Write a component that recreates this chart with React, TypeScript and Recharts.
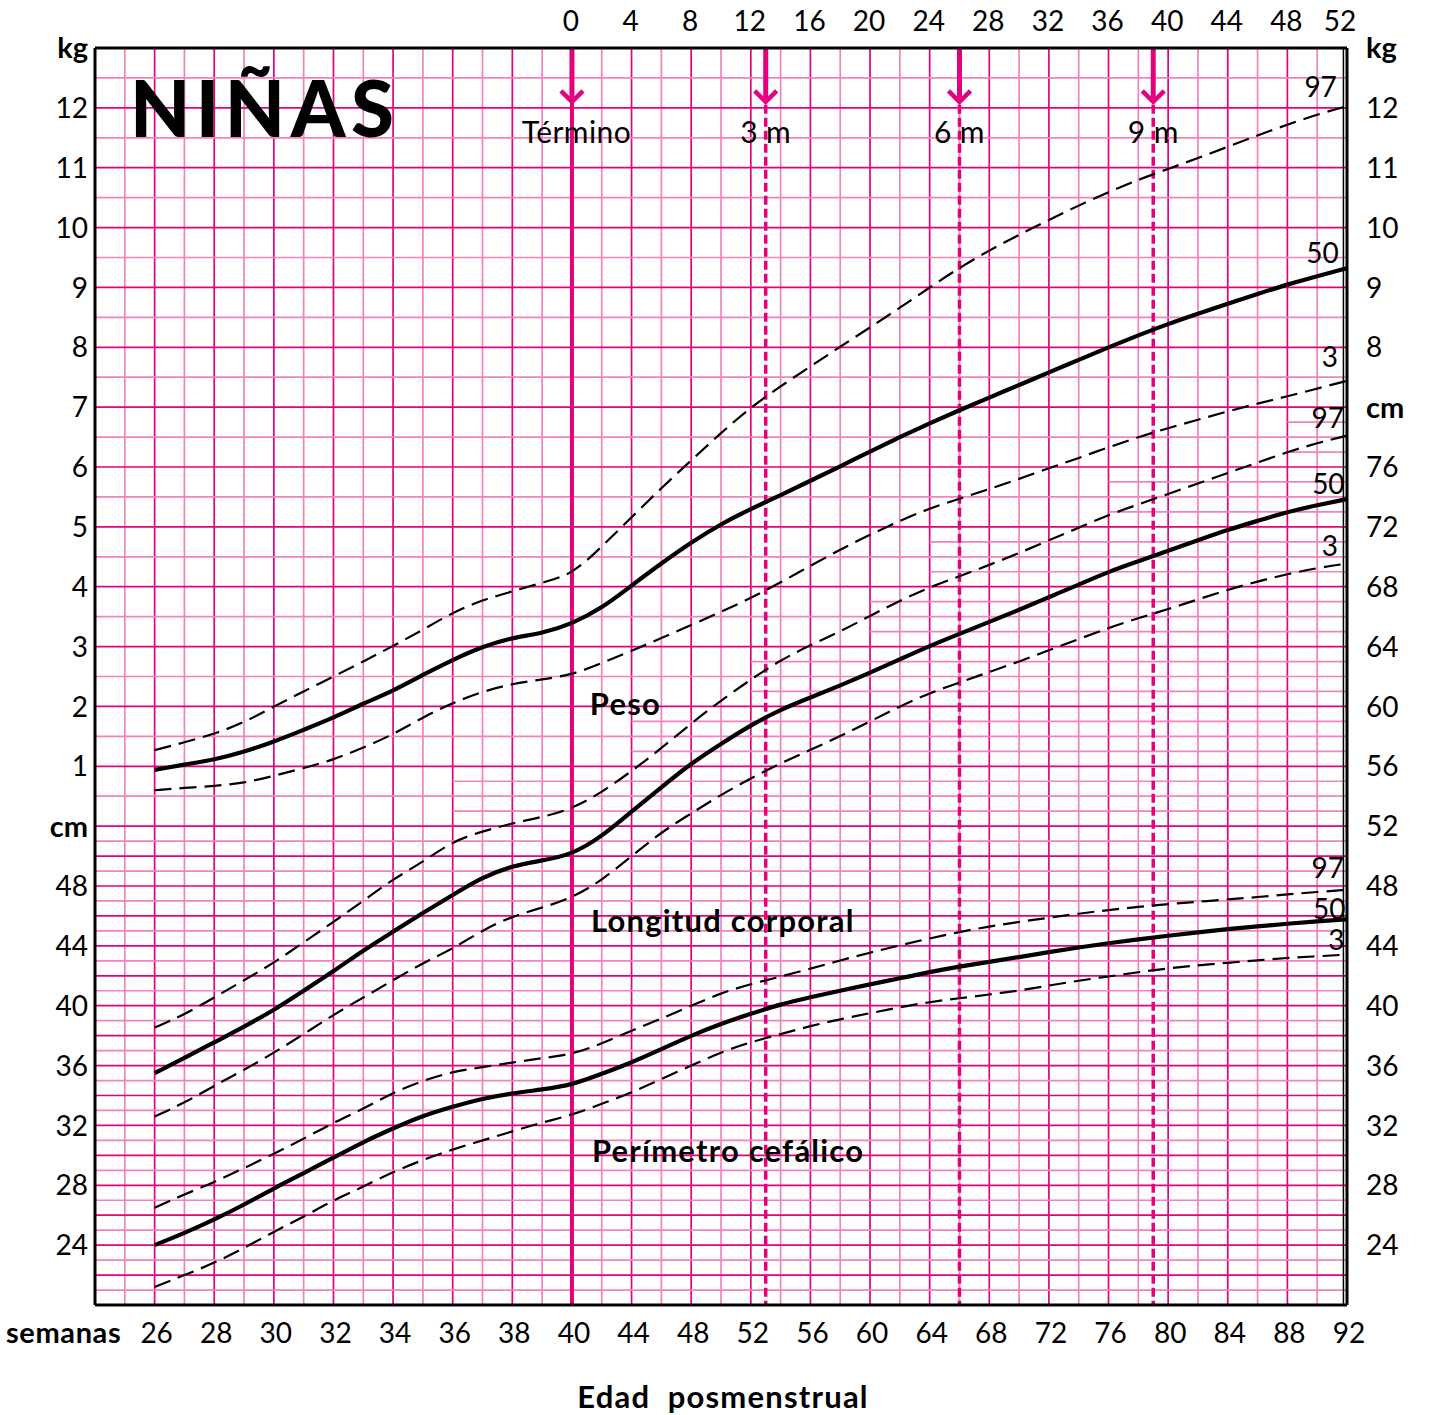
import { LineChart, Line, XAxis, YAxis, ReferenceLine, ReferenceDot } from 'recharts';

const FONT = 'Lato, "Open Sans", "DejaVu Sans", sans-serif';
const PINK = '#E5007E';
const PINK_LIGHT = '#F283BC';

// semanas de edad posmenstrual de cada punto
const WEEKS = [26, 27, 28, 29, 30, 31, 32, 33, 34, 35, 36, 37, 38, 39, 40, 42, 44, 46, 48, 50, 52, 54, 56, 58, 60, 62, 64, 66, 68, 70, 72, 74, 76, 78, 80, 82, 84, 86, 88, 90, 92];

// Peso (kg)
const PESO_P3 = [0.6, 0.64, 0.67, 0.72, 0.84, 0.97, 1.11, 1.31, 1.53, 1.82, 2.06, 2.25, 2.38, 2.45, 2.53, 2.72, 2.93, 3.14, 3.36, 3.58, 3.81, 4.07, 4.35, 4.62, 4.87, 5.1, 5.31, 5.47, 5.63, 5.8, 5.98, 6.15, 6.33, 6.5, 6.65, 6.79, 6.93, 7.06, 7.18, 7.31, 7.44];
const PESO_P50 = [0.94, 1.03, 1.11, 1.24, 1.41, 1.61, 1.81, 2.05, 2.26, 2.53, 2.78, 3.0, 3.15, 3.22, 3.38, 3.64, 4.02, 4.39, 4.74, 5.05, 5.3, 5.53, 5.77, 6.01, 6.26, 6.5, 6.73, 6.95, 7.16, 7.37, 7.58, 7.79, 8.0, 8.2, 8.39, 8.56, 8.73, 8.89, 9.05, 9.19, 9.32];
const PESO_P97 = [1.27, 1.4, 1.54, 1.73, 2.0, 2.25, 2.5, 2.75, 3.01, 3.28, 3.57, 3.78, 3.92, 4.07, 4.2, 4.67, 5.16, 5.65, 6.11, 6.57, 7.0, 7.35, 7.68, 8.01, 8.33, 8.66, 9.0, 9.33, 9.62, 9.88, 10.13, 10.37, 10.59, 10.8, 10.98, 11.16, 11.35, 11.54, 11.72, 11.89, 12.03];

// Longitud corporal (cm)
const LONG_P3 = [32.6, 33.5, 34.66, 35.7, 36.85, 38.1, 39.4, 40.55, 41.7, 42.86, 43.8, 45.05, 45.98, 46.55, 47.2, 48.37, 50.0, 51.6, 52.85, 54.1, 55.2, 56.2, 57.1, 58.0, 59.0, 60.0, 60.9, 61.6, 62.3, 63.0, 63.75, 64.5, 65.25, 65.9, 66.5, 67.15, 67.8, 68.35, 68.85, 69.25, 69.55];
const LONG_P50 = [35.5, 36.5, 37.55, 38.6, 39.7, 41.0, 42.3, 43.7, 44.95, 46.2, 47.4, 48.6, 49.35, 49.7, 50.1, 51.3, 52.98, 54.6, 56.2, 57.5, 58.75, 59.8, 60.6, 61.4, 62.25, 63.15, 64.05, 64.85, 65.65, 66.45, 67.3, 68.14, 69.0, 69.7, 70.4, 71.1, 71.8, 72.4, 73.0, 73.45, 73.85];
const LONG_P97 = [38.54, 39.4, 40.55, 41.7, 42.86, 44.24, 45.6, 47.0, 48.46, 49.6, 51.0, 51.65, 52.2, 52.6, 53.15, 54.26, 55.67, 57.2, 58.87, 60.4, 61.8, 63.1, 64.1, 65.0, 66.05, 67.07, 67.97, 68.7, 69.45, 70.25, 71.1, 71.94, 72.8, 73.5, 74.2, 74.9, 75.6, 76.3, 77.0, 77.6, 78.1];

// Perímetro cefálico (cm)
const PC_P3 = [21.2, 22.0, 22.8, 23.8, 24.9, 25.9, 27.0, 27.9, 28.9, 29.7, 30.4, 31.0, 31.6, 32.2, 32.7, 33.44, 34.2, 35.1, 36.0, 36.9, 37.57, 38.1, 38.65, 39.1, 39.5, 39.9, 40.25, 40.5, 40.75, 41.0, 41.35, 41.68, 41.95, 42.24, 42.5, 42.7, 42.87, 43.03, 43.2, 43.3, 43.42];
const PC_P50 = [24.0, 24.8, 25.7, 26.7, 27.8, 28.8, 29.85, 30.9, 31.8, 32.65, 33.25, 33.8, 34.15, 34.4, 34.7, 35.45, 36.2, 37.1, 38.0, 38.8, 39.46, 40.1, 40.58, 41.0, 41.43, 41.83, 42.25, 42.62, 42.93, 43.25, 43.58, 43.9, 44.18, 44.43, 44.68, 44.9, 45.12, 45.3, 45.48, 45.64, 45.77];
const PC_P97 = [26.5, 27.4, 28.2, 29.15, 30.1, 31.1, 32.2, 33.1, 34.2, 35.0, 35.6, 35.9, 36.2, 36.5, 36.75, 37.46, 38.35, 39.13, 40.0, 40.85, 41.45, 41.95, 42.47, 43.03, 43.55, 44.03, 44.5, 44.93, 45.3, 45.6, 45.88, 46.15, 46.4, 46.6, 46.8, 46.95, 47.1, 47.26, 47.44, 47.6, 47.75];

// etiquetas de los ejes
const BOTTOM_WEEKS = [26, 28, 30, 32, 34, 36, 38, 40, 44, 48, 52, 56, 60, 64, 68, 72, 76, 80, 84, 88, 92];
const TOP_WEEKS_AFTER_TERM = [0, 4, 8, 12, 16, 20, 24, 28, 32, 36, 40, 44, 48, 52];
const KG_LEFT = [1, 2, 3, 4, 5, 6, 7, 8, 9, 10, 11, 12];
const KG_RIGHT = [8, 9, 10, 11, 12];
const CM_LEFT = [24, 28, 32, 36, 40, 44, 48];
const CM_RIGHT = [24, 28, 32, 36, 40, 44, 48, 52, 56, 60, 64, 68, 72, 76];

const MONTHS = [
  { label: 'Término', week: 40 },
  { label: '3 m', week: 53 },
  { label: '6 m', week: 66 },
  { label: '9 m', week: 79 },
];

// hasta el término la escala va de 1 en 1 semana, después se comprime a la mitad
const toT = (w: number) => (w <= 40 ? w : 40 + (w - 40) / 2);
const fromT = (t: number) => (t <= 40 ? t : 40 + (t - 40) * 2);
// 1 kg = 4 cm en el papel, 0 kg cae en 52 cm
const kgToU = (kg: number) => 52 + 4 * kg;

const data = WEEKS.map((w, i) => ({
  t: toT(w),
  pesoP3: kgToU(PESO_P3[i]),
  pesoP50: kgToU(PESO_P50[i]),
  pesoP97: kgToU(PESO_P97[i]),
  longP3: LONG_P3[i],
  longP50: LONG_P50[i],
  longP97: LONG_P97[i],
  pcP3: PC_P3[i],
  pcP50: PC_P50[i],
  pcP97: PC_P97[i],
}));

const leftLabels = new Map<number, { text: string; bold?: boolean }>();
CM_LEFT.forEach((c) => leftLabels.set(c, { text: String(c) }));
leftLabels.set(52, { text: 'cm', bold: true });
KG_LEFT.forEach((k) => leftLabels.set(kgToU(k), { text: String(k) }));
leftLabels.set(104, { text: 'kg', bold: true });

const rightLabels = new Map<number, { text: string; bold?: boolean }>();
CM_RIGHT.forEach((c) => rightLabels.set(c, { text: String(c) }));
rightLabels.set(80, { text: 'cm', bold: true });
KG_RIGHT.forEach((k) => rightLabels.set(kgToU(k), { text: String(k) }));
rightLabels.set(104, { text: 'kg', bold: true });

const LEFT_TICKS = [...leftLabels.keys()].sort((a, b) => a - b);
const RIGHT_TICKS = [...rightLabels.keys()].sort((a, b) => a - b);
const BOTTOM_TICKS = BOTTOM_WEEKS.map(toT);
const TOP_TICKS = TOP_WEEKS_AFTER_TERM.map((w) => toT(40 + w));

// cuadrícula: líneas de 1 cm que suben en escalera por la zona de longitud
const FINE_STEPS: [number, number][] = [
  [53, 36], [55, 36], [57, 44], [59, 44], [61, 52], [63, 52], [65, 60],
  [67, 60], [69, 64], [71, 64], [73, 76], [75, 76], [77, 88], [79, 88],
];
const vGrid = Array.from({ length: 41 }, (_, i) => 25 + i);
const hGrid: { u: number; from: number; dark: boolean }[] = [];
for (let u = 21; u <= 103; u++) {
  const dark = u % 4 === 0 || (u < 52 && u % 2 === 0);
  if (u % 2 === 0 || u < 52) hGrid.push({ u, from: 24, dark });
  else {
    const step = FINE_STEPS.find((s) => s[0] === u);
    if (step) hGrid.push({ u, from: toT(step[1]), dark });
  }
}

// rótulos dentro del área (semana, valor en unidades del papel)
const PERCENTILE_LABELS = [
  { text: '97', t: 65.66, u: 101.4 },
  { text: '50', t: 65.72, u: 90.3 },
  { text: '3', t: 65.7, u: 83.35 },
  { text: '97', t: 65.9, u: 79.3 },
  { text: '50', t: 65.92, u: 74.9 },
  { text: '3', t: 65.7, u: 70.75 },
  { text: '97', t: 65.9, u: 49.2 },
  { text: '50', t: 65.95, u: 46.5 },
  { text: '3', t: 65.92, u: 44.4 },
];
const SECTION_LABELS = [
  { text: 'Peso', t: 40.6, u: 60.2 },
  { text: 'Longitud corporal', t: 40.64, u: 45.7 },
  { text: 'Perímetro cefálico', t: 40.67, u: 30.3 },
];

type TextOpts = { anchor?: string; size?: number; weight?: number; central?: boolean; spacing?: number };
const textShape = (text: string, opts: TextOpts) => (p: any) => (
  <text
    x={p.cx}
    y={p.cy}
    dy={opts.central === false ? 0 : '0.36em'}
    textAnchor={opts.anchor || 'middle'}
    fontFamily={FONT}
    fontSize={opts.size || 28}
    fontWeight={opts.weight || 400}
    letterSpacing={opts.spacing || 0}
    fill="#000"
  >
    {text}
  </text>
);

const arrowHead = (p: any) => (
  <path
    d={`M${p.cx - 11},${p.cy - 11} L${p.cx},${p.cy} L${p.cx + 11},${p.cy - 11}`}
    stroke={PINK}
    strokeWidth={4.5}
    fill="none"
  />
);

const BottomTick = (p: any) => (
  <text x={p.x + 2} y={1333} dy="0.36em" textAnchor="middle" fontFamily={FONT} fontSize={28} fill="#000">
    {fromT(p.payload.value)}
  </text>
);

const TopTick = (p: any) => {
  const w = fromT(p.payload.value) - 40;
  return (
    <text x={w === 52 ? p.x - 7 : p.x - 1} y={21} dy="0.36em" textAnchor="middle" fontFamily={FONT} fontSize={28} fill="#000">
      {w}
    </text>
  );
};

const LeftTick = (p: any) => {
  const lab = leftLabels.get(p.payload.value);
  if (!lab) return null;
  return (
    <text x={88} y={p.y} dy="0.36em" textAnchor="end" fontFamily={FONT} fontSize={lab.bold ? 29 : 28} fontWeight={lab.bold ? 700 : 400} fill="#000">
      {lab.text}
    </text>
  );
};

const RightTick = (p: any) => {
  const lab = rightLabels.get(p.payload.value);
  if (!lab) return null;
  return (
    <text x={1366} y={p.y} dy="0.36em" textAnchor="start" fontFamily={FONT} fontSize={lab.bold ? 29 : 28} fontWeight={lab.bold ? 700 : 400} fill="#000">
      {lab.text}
    </text>
  );
};

const frame = { stroke: '#000', strokeWidth: 3 };
const dashed = { stroke: '#000', strokeWidth: 2.2, strokeDasharray: '17 8' };
const solid = { stroke: '#000', strokeWidth: 4.2 };

export default function App() {
  return (
    <div style={{ position: 'absolute', left: 0, top: 0, width: 1429, height: 1415, background: '#fff' }}>
      <LineChart width={1429} height={1415} data={data} margin={{ top: 0, right: 0, bottom: 0, left: 0 }}>
        <XAxis dataKey="t" type="number" domain={[24, 66]} ticks={BOTTOM_TICKS} interval={0} height={110} axisLine={frame} tickLine={false} tick={BottomTick} allowDataOverflow />
        <XAxis dataKey="t" xAxisId="top" orientation="top" type="number" domain={[24, 66]} ticks={TOP_TICKS} interval={0} height={48} axisLine={frame} tickLine={false} tick={TopTick} allowDataOverflow />
        <YAxis type="number" domain={[20, 104]} ticks={LEFT_TICKS} interval={0} width={95} axisLine={frame} tickLine={false} tick={LeftTick} allowDataOverflow />
        <YAxis yAxisId="right" orientation="right" type="number" domain={[20, 104]} ticks={RIGHT_TICKS} interval={0} width={82} axisLine={frame} tickLine={false} tick={RightTick} allowDataOverflow />

        {vGrid.map((t) => (
          <ReferenceLine key={'v' + t} x={t} stroke={t % 2 === 0 ? PINK : PINK_LIGHT} strokeWidth={1.7} />
        ))}
        {hGrid.map((g) =>
          g.from === 24 ? (
            <ReferenceLine key={'h' + g.u} y={g.u} stroke={g.dark ? PINK : PINK_LIGHT} strokeWidth={1.7} />
          ) : (
            <ReferenceLine key={'h' + g.u} segment={[{ x: g.from, y: g.u }, { x: 66, y: g.u }]} stroke={g.dark ? PINK : PINK_LIGHT} strokeWidth={1.7} />
          ),
        )}
        {/* doble filete del borde derecho */}
        <ReferenceLine x={65.88} stroke="#000" strokeWidth={1.5} />

        {MONTHS.map((m) => (
          <ReferenceLine key={'s' + m.week} segment={[{ x: toT(m.week), y: 104 }, { x: toT(m.week), y: 100.5 }]} stroke={PINK} strokeWidth={5} />
        ))}
        <ReferenceLine x={40} stroke={PINK} strokeWidth={4} />
        {MONTHS.filter((m) => m.week !== 40).map((m) => (
          <ReferenceLine key={'d' + m.week} segment={[{ x: toT(m.week), y: 100.2 }, { x: toT(m.week), y: 20 }]} stroke={PINK} strokeWidth={3.5} strokeDasharray="9 4" />
        ))}
        {MONTHS.map((m) => (
          <ReferenceDot key={'a' + m.week} x={toT(m.week)} y={100.4} r={1} shape={arrowHead} />
        ))}
        {MONTHS.map((m) => (
          <ReferenceDot key={'m' + m.week} x={toT(m.week) + (m.week === 40 ? 0.15 : 0)} y={98.4} r={1} shape={textShape(m.label, { size: 30, spacing: 0.4 })} />
        ))}

        <ReferenceDot x={25.17} y={98.05} r={1} shape={textShape('NIÑAS', { anchor: 'start', size: 78, weight: 900, central: false, spacing: 5.5 })} />
        {SECTION_LABELS.map((s) => (
          <ReferenceDot key={s.text} x={s.t} y={s.u} r={1} shape={textShape(s.text, { anchor: 'start', size: 31, weight: 700, spacing: 1.2 })} />
        ))}
        {PERCENTILE_LABELS.map((s, i) => (
          <ReferenceDot key={'p' + i} x={s.t} y={s.u} r={1} shape={textShape(s.text, { anchor: 'end' })} />
        ))}

        <Line type="basis" dataKey="pesoP97" {...dashed} dot={false} activeDot={false} isAnimationActive={false} />
        <Line type="basis" dataKey="pesoP50" {...solid} dot={false} activeDot={false} isAnimationActive={false} />
        <Line type="basis" dataKey="pesoP3" {...dashed} dot={false} activeDot={false} isAnimationActive={false} />
        <Line type="basis" dataKey="longP97" {...dashed} dot={false} activeDot={false} isAnimationActive={false} />
        <Line type="basis" dataKey="longP50" {...solid} dot={false} activeDot={false} isAnimationActive={false} />
        <Line type="basis" dataKey="longP3" {...dashed} dot={false} activeDot={false} isAnimationActive={false} />
        <Line type="basis" dataKey="pcP97" {...dashed} dot={false} activeDot={false} isAnimationActive={false} />
        <Line type="basis" dataKey="pcP50" {...solid} dot={false} activeDot={false} isAnimationActive={false} />
        <Line type="basis" dataKey="pcP3" {...dashed} dot={false} activeDot={false} isAnimationActive={false} />
      </LineChart>
      <svg width={1429} height={1415} style={{ position: 'absolute', left: 0, top: 0, pointerEvents: 'none' }}>
        <text x={6} y={1333} dy="0.36em" fontFamily={FONT} fontSize={29} fontWeight={700} letterSpacing={0.6} fill="#000">
          semanas
        </text>
        <text x={723} y={1397} dy="0.36em" textAnchor="middle" fontFamily={FONT} fontSize={31} fontWeight={700} letterSpacing={1.2} fill="#000" style={{ whiteSpace: 'pre' }}>
          Edad  posmenstrual
        </text>
      </svg>
    </div>
  );
}
